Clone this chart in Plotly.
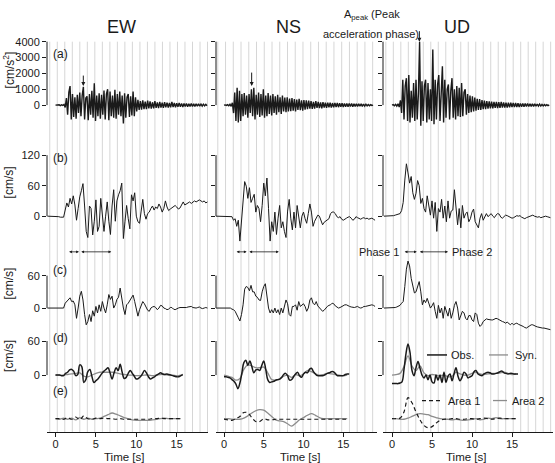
import plotly.graph_objects as go

W, H = 555, 463
FONT = "Liberation Sans, Arial, sans-serif"
INK = "#1a1a1a"
GRAY = "#8c8c8c"

# ---------------- data ----------------
COMPONENTS = ["EW", "NS", "UD"]
PANEL_LABELS = ["(a)", "(b)", "(c)", "(d)", "(e)"]
ROW_UNITS = ["[cm/s<sup>2</sup>]", "[cm/s]", "[cm/s]", "[cm/s]", None]
ROW_TICKS = [[0, 1000, 2000, 3000, 4000], [0, 60, 120], [0, 60], [0, 60], []]
X_TICKS = [0, 5, 10, 15]

# (a) acceleration [cm/s^2], t0 = 0 s, dt = 0.15 s
ACC_T0, ACC_DT = 0.0, 0.15
EW_ACC = [0, 0, 0, 20, -30, 25, -20, 40, -150, 450, -600, 800, 1200, -900, 700, -750, 500, -850,
          650, -500, 800, -700, 600, 1150, -900, 450, 550, -950, 700, -600, 900, -800, 1380, -1000,
          600, -700, 750, -850, 650, -600, 920, -900, 700, 1000, -950, 850, -700, 600, -800, 960,
          -850, 700, -600, 850, -700, 600, -1150, 750, -800, 500, 700, -750, 550, -650, 850, -700,
          500, -400, 330, -300, 250, -280, 300, -250, 220, -260, 280, -200, 230, -220, 180, -200,
          250, -180, 170, -190, 200, -160, 150, -170, 180, -140, 160, -150, 130, -140, 200, -120,
          130, -130, 120, -110, 140, -100, 110, -120, 100, -90, 110, -100, 90, -80, 100, -90, 80,
          -85, 90, -70, 80, -60, 70, -60, 60, -50, 50, -40]
NS_ACC = [0, 15, -20, 30, -40, 50, -80, 150, -500, 800, -1000, 1100, -1100, 900, -1000, 700, -700,
          760, -600, 600, -800, 700, -500, 1000, -700, 1100, -900, 650, -600, 800, -750, 700, -650,
          1000, -800, 600, -700, 760, -550, 600, -650, 700, -500, 550, -600, 650, -450, 500, -550,
          600, -400, 480, -450, 500, -400, 420, -380, 450, -350, 380, -400, 350, -300, 400, -320,
          300, -350, 320, -280, 300, -250, 280, -220, 260, -240, 200, -220, 250, -180, 200, -190,
          170, -200, 180, -160, 150, -170, 160, -140, 150, -150, 130, -140, 140, -120, 130, -130,
          120, -110, 120, -120, 110, -100, 110, -110, 100, -90, 100, -100, 90, -80, 90, -90, 80,
          -70, 80, -80, 70, -60, 60, -50, 40, -40, 30, -20, 0]
UD_ACC = [0, 30, -40, 50, -60, 80, -120, 300, -500, 1600, -900, 1200, 1700, -1000, 1900, -1100, 900,
          -800, 1400, -1000, 1600, -900, 700, 4000, -1300, 1500, -1000, 1200, 1600, -1100, 1400,
          -900, 1000, -1000, 3500, -1200, 1600, -900, 1300, 1900, -1000, 800, 2450, -1100, 1600,
          -800, 1000, 1300, -900, 900, 1700, -800, 1000, -900, 1200, -700, 1100, -750, 1400, -700,
          800, 1000, -600, 700, -500, 600, -450, 550, -400, 480, -350, 400, -300, 380, -300, 320,
          -250, 280, -260, 250, -220, 240, -200, 220, -210, 200, -180, 210, -190, 180, -170, 200,
          -160, 170, -150, 160, -160, 150, -140, 150, -130, 140, -130, 130, -120, 120, -120, 110,
          -100, 110, -100, 100, -90, 100, -90, 90, -80, 90, -80, 80, -70, 70, -60, 60, -60, 50, -50,
          40, -40, 30, -30, 20]

# (b) velocity [cm/s] and (c) velocity [cm/s], t0 = -1 s, dt = 0.2 s
VEL_T0, VEL_DT = -1.0, 0.2
EW_VEL = [0, 0, 0, 0, 0, 0, -1, -1, -2, -2, -2, 12, 26, 18, 35, 24, 40, 22, -8, 15, 38, 50, 64, 20,
          -30, -42, 20, 15, -37, -10, 32, -30, -20, 35, 5, -30, 0, 28, -10, -36, 20, 52, -10, 30,
          42, 50, 65, -44, -10, 21, -5, -25, 42, 30, 46, 0, -11, -14, 10, 33, 5, -6, 5, 8, 15, 20,
          12, 18, 15, 24, 18, 8, 15, 30, 18, 11, 14, 17, 20, 21, 18, 14, 16, 22, 28, 22, 24, 26,
          28, 25, 27, 30, 28, 30, 32, 30, 28, 30, 26, 28]
NS_VEL = [0, 0, 0, 0, 0, 0, 0, 0, 0, 0, -1, -8, -5, -20, -8, -49, -11, 30, 68, 59, 35, 56, 27, 35,
          43, 8, 21, 15, -11, 21, 65, 40, 75, 15, -49, -11, -30, 8, -36, -4, 21, -23, -11, -30, -42,
          10, 33, -4, -27, 8, -23, 21, -4, -23, 0, 8, -5, -14, 5, 24, 8, -20, -10, -4, 2, 0, -10,
          -17, -12, -10, -8, -5, 5, 8, 8, 5, -1, -3, -1, -6, -8, -5, -4, -2, -1, -4, -8, -6, -1, -3,
          -4, -6, -4, -3, -5, -4, -6, -5, -4, -6, -8]
UD_VEL = [0, 0, 0, 0, 0, 0, 1, 2, 3, 4, 5, 11, 27, 71, 103, 85, 65, 78, 46, 33, 45, 70, 60, 25, 35,
          15, 8, 40, 20, 2, 30, -4, 27, -30, 15, 8, 33, -4, 20, -11, 30, -4, 10, 12, 52, 15, -17,
          15, -23, 21, -4, 5, 8, -11, -5, 8, 14, -11, -17, -23, -4, 5, -8, 0, 5, -1, 2, 5, 0, -3,
          2, 5, 4, -2, -4, -1, 2, 1, -1, -2, -4, -3, 0, 1, 0, 1, -2, -4, -5, -3, -2, -1, 1, 2, 0,
          -1, -2, -1, -3, -2, -1, 0, -1, -2, -3]
EW_VELC = [0, 0, 0, 0, 0, 0, 0, 0, 0, 0, 0, 9, 12, 15, 19, 12, 13, 6, -19, 0, 22, 31, 15, -12, -31,
           -25, -12, -25, -5, -15, 3, -9, 6, -6, 12, 0, -9, 6, 25, 16, 22, 0, 6, 16, 20, 37, 15, 0,
           -12, 6, 9, 15, 20, 24, 12, -3, -15, -3, 5, 12, 8, 3, -4, -6, 0, 2, 3, 1, -3, 0, 5, 4, 0,
           -1, -3, -2, 1, 1, -2, -3, -1, 0, 1, 1, 0, 0, 1, 2, 3, 3, 1, 0, 0, 1, 2, 0, -1, 0, 1, 0]
NS_VELC = [0, 0, 0, 0, 0, 0, 0, 0, 0, 0, -2, -3, -6, -11, -18, -24, -12, 6, 35, 40, 38, 32, 42, 30,
           30, 22, 20, 15, 14, 30, 40, 45, 20, 0, -9, -3, -9, 0, -9, -3, -12, 0, -9, 6, 15, 8, -12,
           -15, 3, 3, 6, -4, 12, 3, 6, 8, 3, -6, 0, 15, 19, 9, 6, 12, 4, 0, -2, -6, -4, 0, 3, 5, 6,
           9, 8, 4, 2, 0, 1, 3, 4, 6, 6, 4, 3, 2, 1, 1, 2, 3, 1, 0, 1, 3, 3, 4, 5, 6, 6, 5, 3]
UD_VELC = [0, 0, 0, 0, 0, 0, 0, 1, 2, 3, 5, 9, 12, 40, 72, 87, 78, 55, 42, 28, 30, 40, 49, 30, 6,
           15, 10, 18, 8, 0, 4, 10, -6, -19, 5, -9, 0, -19, 3, -6, -15, 0, -19, -9, 5, 12, 0, -22,
           -15, -6, -9, -19, -22, -14, -14, -22, -25, -9, -12, -28, -34, -31, -25, -22, -20, -21,
           -22, -22, -22, -20, -19, -20, -22, -24, -25, -26, -28, -26, -29, -31, -28, -31, -29, -28,
           -30, -31, -32, -34, -36, -37, -35, -33, -31, -31, -33, -34, -35, -36, -36, -37, -37, -38,
           -38, -39, -40]

# (d) observed / synthetic velocity [cm/s], (e) contributions of the two areas
FIT_T0, OBS_DT, SYN_DT = 0.0, 0.25, 0.5
EW_OBS = [0, 0, 0, -1, -1, 3, 5, 9, 10, 7, -1, 1, 18, 15, -13, -8, 6, 10, -2, -13, -10, -7, -2, 3,
          7, 10, 13, 4, -7, 4, 13, 8, 19, 5, -6, -4, 3, 8, 3, -2, -7, -6, -3, 2, 8, 4, -3, -7, -5,
          -3, 0, 2, 4, 2, 1, 2, 1, 0, -1, -2, -3, -3, -1, 1]
EW_SYN = [0, 0, 0, 1, 2, 3, 4, -2, -3, 0, 3, 5, 5, 5, 5, 4, 2, 1, 0, 0, -1, -1, 0, 0, -1, 0, 1, 1,
          0, 0, -1, 0]
NS_OBS = [-3, -3, -4, -5, -8, -11, -16, -24, -14, 4, 22, 26, 17, 25, 15, 4, 9, 10, 8, 17, 25, 10, -8,
          -13, -12, -11, -9, -8, -7, -4, 1, 3, -1, -9, -8, -3, 2, 5, -1, -4, 2, 5, 4, 10, 12, 6, 2,
          -1, -1, -1, -1, 1, 3, 4, 6, 6, 3, -1, -1, -1, -1, 1, 2, 2]
NS_SYN = [0, -2, -4, -9, -6, 10, 18, 16, 13, 13, 14, 4, -8, -9, -7, -2, 0, -4, 1, -1, 2, 8, 6, 2, 0,
          1, 3, 2, 1, 0, -1, 0]
UD_OBS = [-15, -15, -15, -15, -14, -12, 10, 38, 55, 40, 8, -1, 13, 24, 12, 0, -5, 0, -8, 0, -12, -14,
          0, -9, 0, -13, 5, -13, -2, 2, -10, 2, 13, -2, -10, -4, 5, 2, -5, -3, -1, 6, 8, 2, 0, -1, 2,
          4, 5, 4, 2, 2, 3, 4, 6, 7, 4, 3, 2, 3, 3, 2, 2, 2]
UD_SYN = [0, 1, 3, 15, 34, 16, 8, 16, 4, -1, 1, 0, -1, 0, -3, -2, 5, 2, 0, 0, 3, 5, 2, 1, 2, 3, 3, 4,
          5, 3, 1, 2]
AREA_DT = 0.5
EW_AREA1 = [0, 0, -1, 2, -1, 3, -2, 5, 0, -1, 1, 0, 1, 0, 0, -1, 0, -1, -1, -1, -1, -1, -1, -1, 0,
            0, 1, 0, 0, 0, 0, 0]
EW_AREA2 = [0, -1, 1, -1, 1, -2, 2, -1, 1, -1, 0, 1, 4, 7, 10, 8, 5, 2, 0, -2, -3, -3, -3, -3, -2,
            -1, 0, 1, 0, 0, 0, 0]
NS_AREA1 = [-1, -2, -3, 0, 4, 11, 10, 2, -5, -5, 0, -2, -2, -1, -1, -1, -1, -1, -1, -1, -1, -1, -1,
            -1, -1, -1, -1, -1, -1, -1, -1, -1]
NS_AREA2 = [0, 0, -1, -1, -1, 1, 5, 10, 14, 16, 15, 10, 4, -2, -4, -5, -9, -13, -8, -2, 2, 6, 9, 6, 2,
            0, 0, 0, 0, 0, 0, 0]
UD_AREA1 = [0, 0, 1, 12, 37, 28, 12, -2, -12, -16, -14, -8, -3, -1, -1, 0, 0, -1, -1, 0, 0, -1, 0, 1,
            0, -1, 0, 1, 0, 0, 0, 0]
UD_AREA2 = [0, 0, -1, -1, 1, 4, 7, 9, 8, 7, 4, 2, 0, -1, -1, -2, -1, -2, -3, -2, -1, 0, -2, -1, 1, 0,
            2, 0, 0, 0, 0, 0]

PEAK_T = [3.44, 3.48, 3.42]          # arrows marking A_peak
PEAK_A = [1200, 1200, 4000]
PHASE1 = [(1.5, 2.9), (1.4, 2.85), (1.4, 3.1)]
PHASE2 = [(3.0, 6.9), (3.0, 6.9), (3.3, 7.0)]

ACC = [EW_ACC, NS_ACC, UD_ACC]
VEL = [EW_VEL, NS_VEL, UD_VEL]
VELC = [EW_VELC, NS_VELC, UD_VELC]
OBS = [EW_OBS, NS_OBS, UD_OBS]
SYN = [EW_SYN, NS_SYN, UD_SYN]
AREA1 = [EW_AREA1, NS_AREA1, UD_AREA1]
AREA2 = [EW_AREA2, NS_AREA2, UD_AREA2]

# ---------------- layout geometry ----------------
COL_PX = [(47, 208), (216, 377), (383, 553)]
X_RANGE = [(-1.052, 18.87), (-1.006, 19.245), (-1.125, 20.125)]
ROW_PX = [(36, 124), (145, 242), (255, 330), (335, 392), (392, 432)]
Y_RANGE = [(-1375, 4125), (-54.6, 134.6), (-42.75, 94.9), (-30.9, 68.7), (-23.95, 46)]
GRID = [(-0.71, 0.9295), (-0.78, 0.974), (-0.77, 0.9365)]
GRID_TOP_PX, GRID_BOTTOM_PX = 38, 432
TITLE_X = [121, 288, 457]
TIME_X = [124, 300, 466]
ROW_LABEL_Y = [50, 155, 268, 337, 390]
UNIT_Y = [67, 180, 282, 355]
PEAK_ARROW = [12, 15, 12]
DASH = "4px,3px"


def px(x):
    return x / W


def py(y):
    return 1 - y / H


def times(t0, dt, n):
    return [round(t0 + i * dt, 4) for i in range(n)]


def xid(c):
    return "x" if c == 0 else f"x{c + 1}"


def yid(c, r):
    n = c * 5 + r + 1
    return "y" if n == 1 else f"y{n}"


def key(a):
    return a[0] + "axis" + a[1:]


def label(text, x, y, xanchor="center", size=11, angle=0):
    return dict(text=text, x=px(x), y=py(y), xref="paper", yref="paper", xanchor=xanchor,
                yanchor="middle", showarrow=False, textangle=angle,
                font=dict(family=FONT, size=size, color=INK))


fig = go.Figure()
layout = {}
shapes = []
ann = []
tickfont = dict(family=FONT, size=11, color=INK)

for c in range(3):
    xa = xid(c)
    layout[key(xa)] = dict(domain=[px(COL_PX[c][0]), px(COL_PX[c][1])], range=list(X_RANGE[c]),
                           anchor=yid(c, 4), showline=True, linecolor=INK, linewidth=1,
                           ticks="outside", ticklen=4, tickcolor=INK, tickvals=X_TICKS,
                           ticklabelstandoff=-2,
                           showgrid=False, zeroline=False, tickfont=tickfont)
    for r in range(5):
        ya = yid(c, r)
        layout[key(ya)] = dict(domain=[py(ROW_PX[r][1]), py(ROW_PX[r][0])], range=list(Y_RANGE[r]),
                               anchor=xa, showline=False, showgrid=False, zeroline=False,
                               ticks="outside" if ROW_TICKS[r] else "", tickvals=ROW_TICKS[r],
                               ticklen=4, tickcolor=INK, showticklabels=(c == 0), tickfont=tickfont)
        if ROW_TICKS[r]:
            shapes.append(dict(type="line", xref=f"{xa} domain", x0=0, x1=0, yref=ya,
                               y0=0, y1=max(ROW_TICKS[r]), line=dict(color=INK, width=1)))
    # background vertical guide lines
    g0, gstep = GRID[c]
    k = 0
    while g0 + k * gstep < X_RANGE[c][1]:
        shapes.append(dict(type="line", xref=xa, yref="paper", x0=g0 + k * gstep, x1=g0 + k * gstep,
                           y0=py(GRID_BOTTOM_PX), y1=py(GRID_TOP_PX), layer="below",
                           line=dict(color="#d6d6d6", width=1)))
        k += 1

    def add(tt, vv, r, color=INK, width=1.0, dash=None, shape="linear"):
        fig.add_trace(go.Scatter(x=tt, y=vv, xaxis=xa, yaxis=yid(c, r), mode="lines",
                                 line=dict(color=color, width=width, dash=dash, shape=shape),
                                 showlegend=False, hoverinfo="skip"))

    add(times(ACC_T0, ACC_DT, len(ACC[c])), ACC[c], 0, width=1.4)
    add(times(VEL_T0, VEL_DT, len(VEL[c])), VEL[c], 1, width=1.0)
    add(times(VEL_T0, VEL_DT, len(VELC[c])), VELC[c], 2, width=1.0)
    add(times(FIT_T0, SYN_DT, len(SYN[c])), SYN[c], 3, color=GRAY, width=1.3, shape="spline")
    add(times(FIT_T0, OBS_DT, len(OBS[c])), OBS[c], 3, width=1.5, shape="spline")
    add(times(FIT_T0, AREA_DT, len(AREA2[c])), AREA2[c], 4, color=GRAY, width=1.3, shape="spline")
    add(times(FIT_T0, AREA_DT, len(AREA1[c])), AREA1[c], 4, width=1.2, dash=DASH, shape="spline")

    ann.append(label(COMPONENTS[c], TITLE_X[c], 23, size=18))
    ann.append(label("Time [s]", TIME_X[c], 457, size=11.5))
    # A_peak arrows
    ann.append(dict(text="", x=PEAK_T[c], y=PEAK_A[c], xref=xa, yref=yid(c, 0), ax=0,
                    ay=-PEAK_ARROW[c], showarrow=True, arrowhead=2, arrowsize=0.8,
                    arrowwidth=1, arrowcolor=INK))
    # phase arrows
    for (s, e) in (PHASE1[c], PHASE2[c]):
        ann.append(dict(text="", x=e, y=py(250), xref=xa, yref="paper", ax=s, ay=0,
                        axref=xa, ayref="pixel", showarrow=True, arrowhead=2,
                        startarrowhead=2, arrowside="end+start", arrowsize=0.7,
                        startarrowsize=0.7, arrowwidth=0.8, arrowcolor=INK,
                        standoff=0, startstandoff=0))

for r in range(5):
    ann.append(label(PANEL_LABELS[r], 60, ROW_LABEL_Y[r], size=12))
    if ROW_UNITS[r]:
        ann.append(label(ROW_UNITS[r], 9, UNIT_Y[r], size=12, angle=-90))

ann += [
    label("A<sub>peak</sub> (Peak", 342, 11, xanchor="left"),
    label("acceleration phase)", 321, 30, xanchor="left"),
    label("Phase 1", 401, 250, xanchor="right"),
    label("Phase 2", 450, 250, xanchor="left"),
    label("Obs.", 449, 354, xanchor="left"),
    label("Syn.", 513, 354, xanchor="left"),
    label("Area 1", 446, 400, xanchor="left"),
    label("Area 2", 510, 400, xanchor="left"),
]
shapes += [
    dict(type="line", xref="paper", yref="paper", x0=px(427), x1=px(447), y0=py(354), y1=py(354),
         line=dict(color=INK, width=1.5)),
    dict(type="line", xref="paper", yref="paper", x0=px(489), x1=px(508), y0=py(354), y1=py(354),
         line=dict(color=GRAY, width=1.3)),
    dict(type="line", xref="paper", yref="paper", x0=px(422), x1=px(442), y0=py(400), y1=py(400),
         line=dict(color=INK, width=1.2, dash=DASH)),
    dict(type="line", xref="paper", yref="paper", x0=px(493), x1=px(507), y0=py(400), y1=py(400),
         line=dict(color=GRAY, width=1.3)),
]

fig.update_layout(width=W, height=H, margin=dict(l=0, r=0, t=0, b=0), paper_bgcolor="white",
                  plot_bgcolor="white", showlegend=False, font=dict(family=FONT, color=INK),
                  shapes=shapes, annotations=ann, **layout)
fig.write_html("out.html")
